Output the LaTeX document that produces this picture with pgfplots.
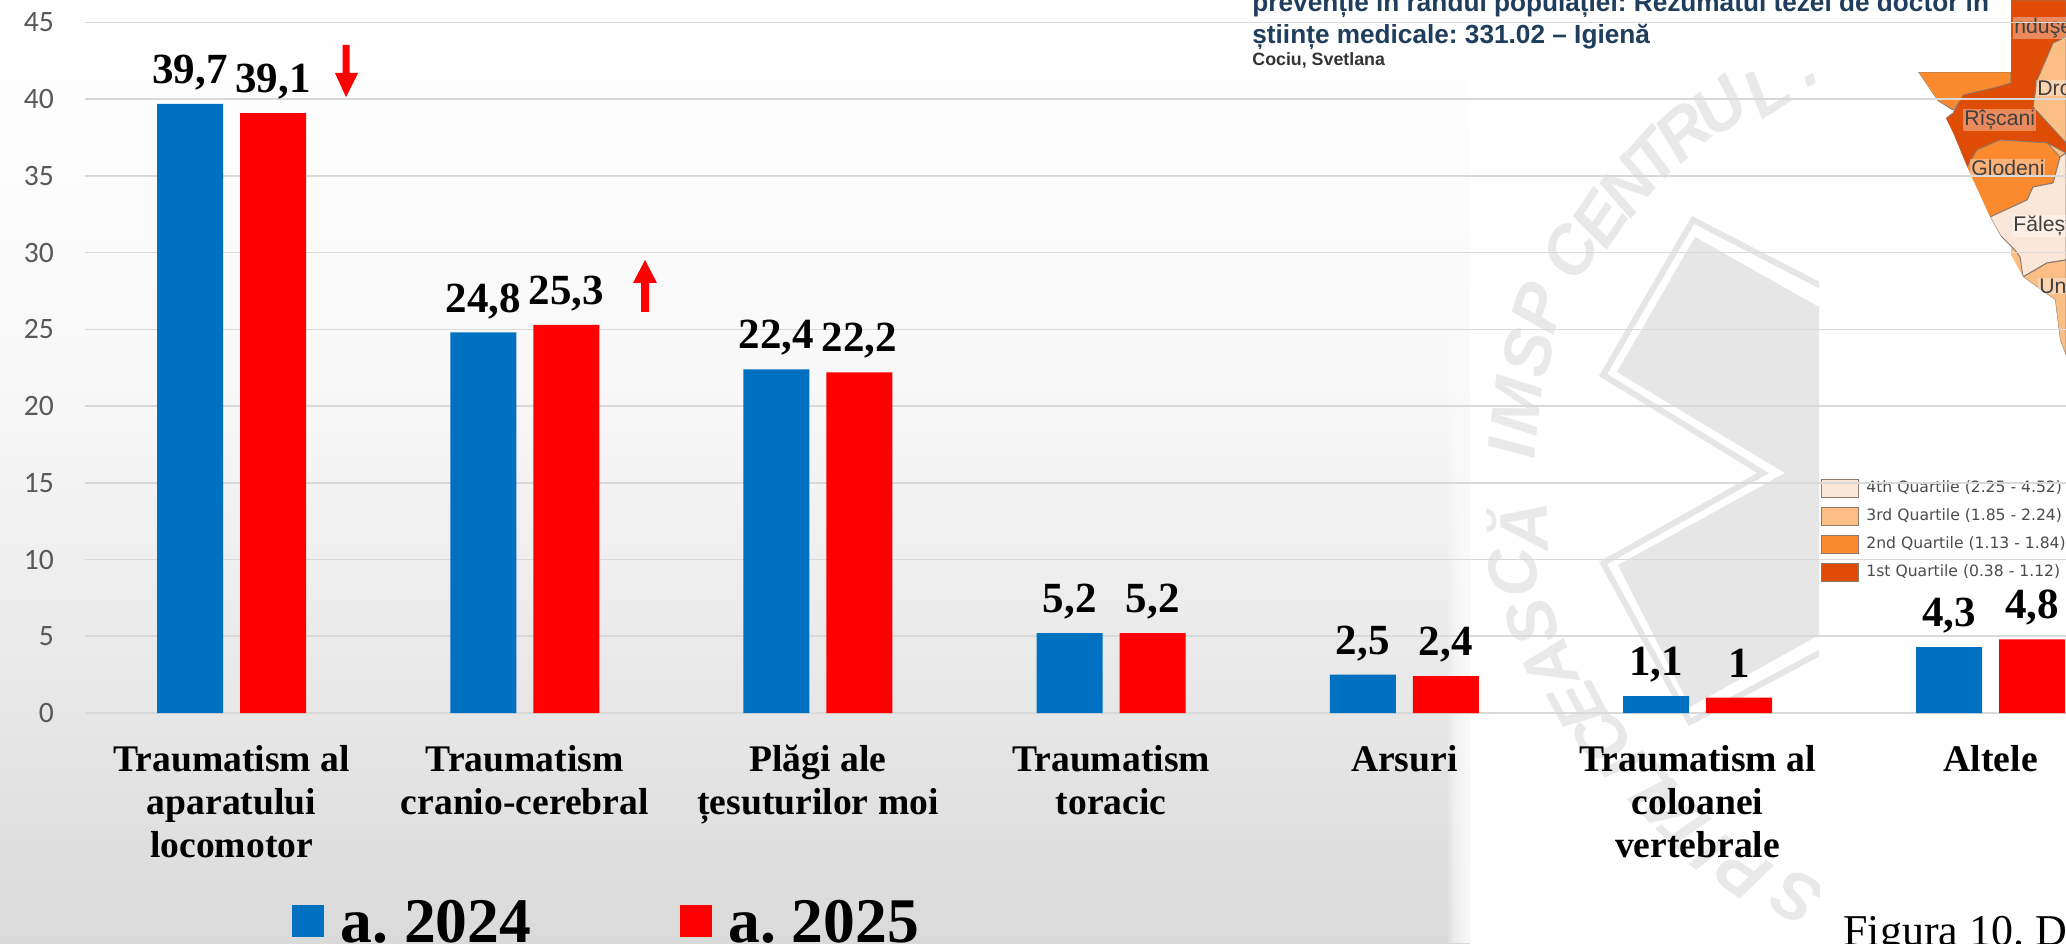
\documentclass[border=0pt]{standalone}
\usepackage{fontspec}
\usepackage{pgfplots}
\pgfplotsset{compat=1.18}
\setmainfont{Liberation Serif}
\newfontfamily\arial{Liberation Sans}
\newfontfamily\tickfont{Carlito}
\newfontfamily\mapfont{DejaVu Sans}
\definecolor{barblue}{HTML}{0070C0}
\definecolor{barred}{HTML}{FF0000}
\definecolor{wm}{HTML}{E6E6E6}
\definecolor{wmtext}{HTML}{E9E9E9}
\definecolor{titleblue}{HTML}{1F3D5C}
\definecolor{qfour}{HTML}{FBE7DA}
\definecolor{qthree}{HTML}{FBBE85}
\definecolor{qtwo}{HTML}{FB8A2E}
\definecolor{qone}{HTML}{DF4C06}
\definecolor{mapline}{HTML}{8C7A6C}
\begin{document}
\frenchspacing
\begin{tikzpicture}
\path[use as bounding box] (-42.5pt,-115pt) rectangle (990.5pt,356.5pt);
\clip (-42.5pt,-115pt) rectangle (990.5pt,356.5pt);
% screenshot background, in image pixels
\begin{scope}[x=.5pt,y=-.5pt,shift={(-85,-713)}]
\fill[white] (0,0) rectangle (2066,943);
\shade[top color=white,bottom color=white!97!black] (0,0) rectangle (1470,400);
\shade[top color=white!97!black,bottom color=white!85.5!black] (0,400) rectangle (1470,943);
\foreach \i in {0,...,10}
  \fill[white,opacity=.16] (1448+2*\i,0) rectangle (1470,943);
% watermark
\begin{scope}
\clip (1100,72) rectangle (1819,943);
\fill[wm] (1695,237) -- (1819,307) -- (1819,635) -- (1690,707) -- (1618,565)
  -- (1785,473) -- (1617,372) -- cycle;
\draw[wm,line width=3pt,miter limit=20] (1825,288) -- (1693,220) -- (1603,375) -- (1763,473)
  -- (1603,563) -- (1690,722) -- (1825,650);
\foreach \x/\y/\r/\l in {1512/448/86/I,1517/407/83/M,1528/353/76/S,1538/308/72/P,1570/252/62/C,
  1600/220/56/E,1627/187/52/N,1653/157/48/T,1683/132/42/R,1720/107/38/U,1767/90/32/L,1812/80/28/.,
  1517/527/92/Ă,1513/573/97/C,1532/623/105/S,1550/665/112/A,1578/705/118/E,1603/738/122/C,
  1625/765/125/I,1645/785/128/L,1668/808/132/A,1690/830/136/T,1712/853/140/I,1743/873/145/P,1797/897/150/S}
  \node[rotate=\r,text=wmtext,inner sep=0pt] at (\x,\y) {\fontsize{34}{34}\selectfont\arial\bfseries\itshape \l};
\end{scope}
% map fragment
\fill[qthree] (2011,72) rectangle (2066,360);
\fill[qthree,draw=mapline,line width=.4pt] (2066,37) -- (2053,43) -- (2037,80) -- (2033,107) -- (2066,143) -- cycle;
\fill[qtwo,draw=mapline,line width=.4pt] (1918,72) -- (2011,72) -- (2011,83) -- (1993,90) -- (1963,97) -- (1953,110) -- (1937,100) -- cycle;
\fill[qone,draw=mapline,line width=.4pt] (2011,0) -- (2066,0) -- (2066,37) -- (2053,43) -- (2037,80) -- (2033,107) -- (2066,143)
  -- (2066,153) -- (2047,143) -- (2000,140) -- (1977,150) -- (1967,167) -- (1953,133) -- (1940,123) -- (1953,113)
  -- (1963,95) -- (1993,88) -- (2011,83) -- cycle;
\fill[qtwo,draw=mapline,line width=.4pt] (1977,150) -- (2000,140) -- (2047,143) -- (2060,157) -- (2053,183) -- (2033,187)
  -- (2027,200) -- (1990,217) -- (1963,180) -- (1967,167) -- cycle;
\fill[qfour,draw=mapline,line width=.5pt] (2066,153) -- (2060,157) -- (2053,183) -- (2033,187) -- (2027,200) -- (1990,217)
  -- (2000,235) -- (2015,250) -- (2020,257) -- (2023,277) -- (2047,263) -- (2066,260) -- cycle;
\fill[qthree,draw=mapline,line width=.5pt] (2023,277) -- (2047,263) -- (2066,260) -- (2066,356) -- (2060,340) -- (2055,300) -- cycle;
\fill[white] (2011,72) -- (2011,0) -- (1245,0) -- (1245,72) -- cycle;
\fill[white] (1900,72) -- (1918,72) -- (1937,100) -- (1953,133) -- (1967,167) -- (1990,217) -- (2023,277) -- (2055,300) -- (2060,340) -- (2066,356) -- (2066,943) -- (1900,943) -- cycle;
\foreach \x/\y/\t in {2013/28/nduşe,2036/88/Dro,1963/120/Rîșcani,1970/168/Glodeni,2012/226/Fălești,2038/286/Un}
  \node[anchor=west,inner sep=.5pt,fill=white,fill opacity=.35,text opacity=1,text=black!75] at (\x,\y) {\fontsize{10.6}{11}\selectfont\arial \t};
% title of the overlaid record
\node[anchor=base west,inner sep=0pt,text=titleblue] at (1252,12)
  {\fontsize{13.1}{15}\selectfont\arial\bfseries prevenție în rândul populației: Rezumatul tezei de doctor în};
\node[anchor=base west,inner sep=0pt,text=titleblue] at (1252,44)
  {\fontsize{13.1}{15}\selectfont\arial\bfseries științe medicale: 331.02 – Igienă};
\node[anchor=base west,inner sep=0pt,text=black!80] at (1252,66)
  {\fontsize{8.9}{10}\selectfont\arial\bfseries Cociu, Svetlana};
% quartile key of the map
\foreach \y/\c/\t in {488/qfour/4th Quartile (2.25 - 4.52),516/qthree/3rd Quartile (1.85 - 2.24),
  544/qtwo/2nd Quartile (1.13 - 1.84),572/qone/1st Quartile (0.38 - 1.12)}{
  \fill[\c,draw=mapline,line width=.5pt] (1821,\y-9) rectangle (1858,\y+9);
  \node[anchor=west,inner sep=0pt,text=black!70] at (1866,\y) {\fontsize{7.8}{9}\selectfont\mapfont \t};
}
\node[anchor=base west,inner sep=0pt] at (1843,945) {\fontsize{22}{24}\selectfont Figura 10. D};
\end{scope}
% the chart
\begin{axis}[
  at={(0,0)}, anchor=south west,
  scale only axis, width=990.5pt, height=345.25pt,
  xmin=-0.5, xmax=6.2569, ymin=0, ymax=45,
  xtick={0,1,2,3,4,5,6},
  xticklabels={{Traumatism al\\aparatului\\locomotor},{Traumatism\\cranio-cerebral},{Plăgi ale\\țesuturilor moi},
    {Traumatism\\toracic},{Arsuri},{Traumatism al\\coloanei\\vertebrale},{Altele}},
  x tick label style={align=center,font=\fontsize{18.8}{21.7}\selectfont\bfseries,anchor=north,yshift=-12.5pt},
  ytick={0,5,...,45},
  y tick label style={font=\fontsize{14.8}{16}\selectfont\tickfont,text=black!65,anchor=east,xshift=-12pt},
  major tick length=0pt,
  axis line style={draw=none},
  ymajorgrids, grid style={draw=black!15,line width=.8pt},
  /pgf/number format/.cd, use comma, fixed, precision=1, assume math mode=true, /pgfplots/.cd,
  nodes near coords,
  every node near coord/.append style={font=\fontsize{21.5}{24}\selectfont\bfseries,text=black,inner ysep=7pt,text depth=3pt},
  legend columns=2,
  legend style={draw=none,fill=none,at={(0.1045,-0.337)},anchor=south west,inner sep=0pt,
    font=\fontsize{31.8}{34}\selectfont\bfseries,nodes={inner sep=0pt},
    /tikz/every even column/.append style={column sep=74.5pt},
    /tikz/every odd column/.append style={column sep=8pt}},
  legend image code/.code={\fill[#1] (0pt,-7pt) rectangle (16pt,9pt);},
]
\addplot[ybar,bar width=33pt,bar shift=-20.75pt,fill=barblue,draw=none,
  every node near coord/.append style={xshift=-20.75pt}] coordinates
  {(0,39.7) (1,24.8) (2,22.4) (3,5.2) (4,2.5) (5,1.1) (6,4.3)};
\addlegendentry{a. 2024}
\addplot[ybar,bar width=33pt,bar shift=20.75pt,fill=barred,draw=none,
  every node near coord/.append style={xshift=20.75pt}] coordinates
  {(0,39.1) (1,25.3) (2,22.2) (3,5.2) (4,2.4) (5,1) (6,4.8)};
\addlegendentry{a. 2025}
\end{axis}
% trend arrows
\begin{scope}[x=.5pt,y=-.5pt,shift={(-85,-713)}]
\fill[barred] (342.5,45) -- (349.5,45) -- (349.5,73) -- (358,73) -- (346,97) -- (335,73) -- (342.5,73) -- cycle;
\fill[barred] (641,312) -- (649,312) -- (649,283) -- (657,283) -- (645,260) -- (633,283) -- (641,283) -- cycle;
\end{scope}
\end{tikzpicture}
\end{document}
